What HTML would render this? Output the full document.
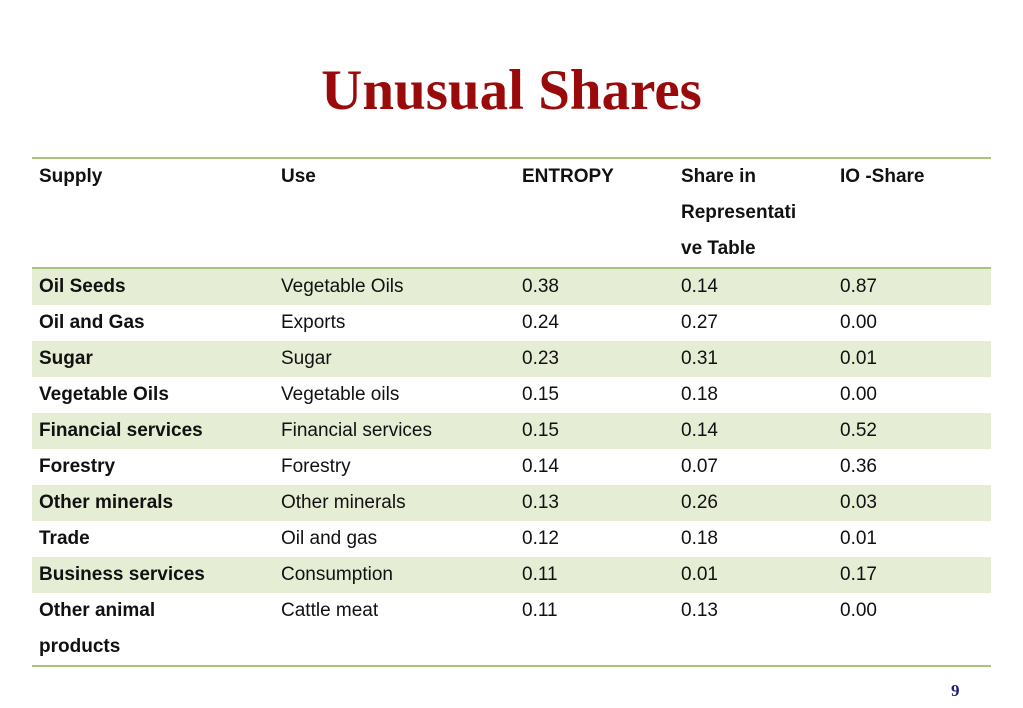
<!DOCTYPE html>
<html><head><meta charset="utf-8"><style>
body{margin:0;width:1023px;height:708px;background:#fff;position:relative;overflow:hidden;font-family:"Liberation Sans",sans-serif;}
h1{position:absolute;left:0;width:1023px;top:58px;margin:0;text-align:center;font-family:"Liberation Serif",serif;font-weight:bold;font-size:57px;color:#9b0a0a;}
table{position:absolute;left:32px;top:157px;width:959px;border-collapse:collapse;font-size:19px;color:#111;}
td{padding:0 0 0 7px;height:36px;vertical-align:middle;line-height:36px;white-space:nowrap;}
tr.hd td{height:108px;vertical-align:top;border-top:2px solid #a9c47f;border-bottom:2px solid #a9c47f;font-weight:bold;line-height:36px;}
tr.s td{background:#e6edd5;}
tr:last-child td{border-bottom:2px solid #a9c47f;vertical-align:top;height:72px;}
td.b{font-weight:bold;}
.pg{position:absolute;left:951px;top:681px;font-family:"Liberation Serif",serif;font-weight:bold;font-size:17px;color:#1a1a7a;}
</style></head><body>
<h1>Unusual Shares</h1>
<table>
<colgroup><col style="width:242px"><col style="width:241px"><col style="width:159px"><col style="width:159px"><col style="width:158px"></colgroup>
<tr class="hd"><td>Supply</td><td>Use</td><td>ENTROPY</td><td>Share in<br>Representati<br>ve Table</td><td>IO -Share</td></tr>
<tr class="s"><td class="b">Oil Seeds</td><td>Vegetable Oils</td><td>0.38</td><td>0.14</td><td>0.87</td></tr>
<tr><td class="b">Oil and Gas</td><td>Exports</td><td>0.24</td><td>0.27</td><td>0.00</td></tr>
<tr class="s"><td class="b">Sugar</td><td>Sugar</td><td>0.23</td><td>0.31</td><td>0.01</td></tr>
<tr><td class="b">Vegetable Oils</td><td>Vegetable oils</td><td>0.15</td><td>0.18</td><td>0.00</td></tr>
<tr class="s"><td class="b">Financial services</td><td>Financial services</td><td>0.15</td><td>0.14</td><td>0.52</td></tr>
<tr><td class="b">Forestry</td><td>Forestry</td><td>0.14</td><td>0.07</td><td>0.36</td></tr>
<tr class="s"><td class="b">Other minerals</td><td>Other minerals</td><td>0.13</td><td>0.26</td><td>0.03</td></tr>
<tr><td class="b">Trade</td><td>Oil and gas</td><td>0.12</td><td>0.18</td><td>0.01</td></tr>
<tr class="s"><td class="b">Business services</td><td>Consumption</td><td>0.11</td><td>0.01</td><td>0.17</td></tr>
<tr><td class="b">Other animal<br>products</td><td>Cattle meat</td><td>0.11</td><td>0.13</td><td>0.00</td></tr>
</table>
<div class="pg">9</div>
</body></html>
